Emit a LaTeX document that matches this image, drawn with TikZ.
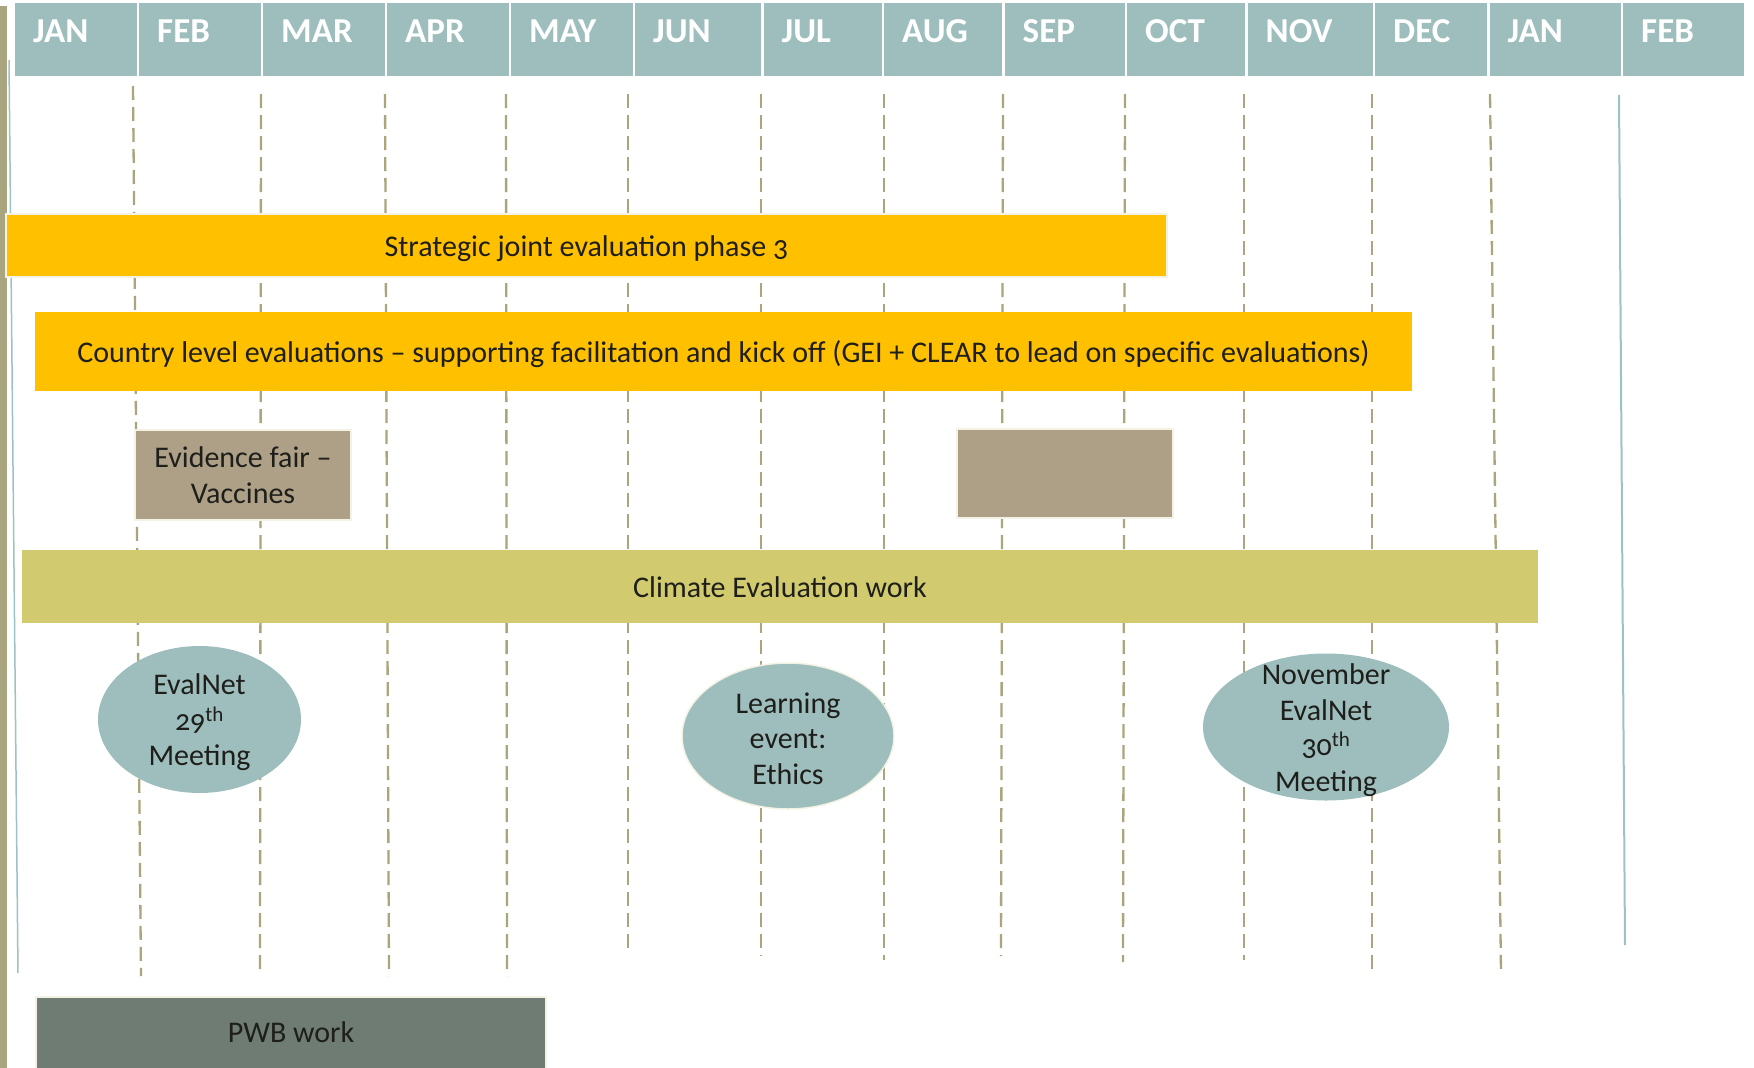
\documentclass[tikz,border=0pt]{standalone}
\usepackage{fontspec}
\setmainfont{Carlito}[Numbers=OldStyle]
\usepackage{tikz}
\usetikzlibrary{positioning,shapes,calc}
\definecolor{headteal}{HTML}{9DBEBD}
\definecolor{linkteal}{HTML}{9CC2C3}
\definecolor{gold}{HTML}{FFC000}
\definecolor{climate}{HTML}{D2CA6E}
\definecolor{tan}{HTML}{ADA086}
\definecolor{pwbgrey}{HTML}{6E7C74}
\definecolor{gridkhaki}{HTML}{ABA57D}
\definecolor{sidekhaki}{HTML}{A9A57E}
\definecolor{cream}{HTML}{F4F2E4}
\definecolor{textdark}{HTML}{1E1E1A}
\tikzset{
  month/.style={
    fill=headteal,
    minimum height=73pt,
    inner sep=0pt,
    outer sep=0pt
  },
  month text/.style={
    anchor=base west,
    xshift=18pt,
    yshift=-2.5pt,
    inner sep=0pt,
    text=white,
    font=\fontsize{35}{40}\selectfont\bfseries
  },
  task/.style={
    inner sep=0pt,
    align=center,
    text=textdark,
    font=\fontsize{30}{35.5}\selectfont
  },
  one line/.style={
    text height=28pt,
    text depth=6pt
  },
  event/.style={
    task,
    shape=ellipse,
    inner sep=-20pt,
    fill=headteal
  },
  grid line/.style={
    draw=gridkhaki,
    line width=2.3pt,
    dash pattern=on 14pt off 7pt
  }
}

\begin{document}
\begin{tikzpicture}[x=1pt,y=-1pt,node distance=2.5pt]
    \useasboundingbox (0,0) rectangle (1754,1068);

    \fill[sidekhaki] (0,6) rectangle (7,1068);
    \draw[linkteal,line width=1.5pt] (9,60) -- (18,973);

    \path{
      node[month,minimum width=121.5pt,anchor=north west,label={[month text]west:JAN}] (m_1) at (15,3) {}
      node[month,minimum width=121.5pt,label={[month text]west:FEB}] (m_2) [right=of m_1] {}
      node[month,minimum width=121.5pt,label={[month text]west:MAR}] (m_3) [right=of m_2] {}
      node[month,minimum width=121.5pt,label={[month text]west:APR}] (m_4) [right=of m_3] {}
      node[month,minimum width=121.5pt,label={[month text]west:MAY}] (m_5) [right=of m_4] {}
      node[month,minimum width=126pt,label={[month text]west:JUN}] (m_6) [right=of m_5] {}
      node[month,minimum width=118pt,label={[month text]west:JUL}] (m_7) [right=of m_6] {}
      node[month,minimum width=118pt,label={[month text]west:AUG}] (m_8) [right=of m_7] {}
      node[month,minimum width=120pt,label={[month text]west:SEP}] (m_9) [right=of m_8] {}
      node[month,minimum width=118pt,label={[month text]west:OCT}] (m_10) [right=of m_9] {}
      node[month,minimum width=125pt,label={[month text]west:NOV}] (m_11) [right=of m_10] {}
      node[month,minimum width=112pt,label={[month text]west:DEC}] (m_12) [right=of m_11] {}
      node[month,minimum width=131pt,label={[month text]west:JAN}] (m_13) [right=of m_12] {}
      node[month,minimum width=121pt,label={[month text]west:FEB}] (m_14) [right=of m_13] {}
    };

    % month boundaries
    \draw[grid line] (133,86) -- (141,976);
    \draw[grid line] (261,94) -- (260,975);
    \draw[grid line] (385,94) -- (389,976);
    \draw[grid line] (506,94) -- (507,976);
    \draw[grid line] (628,94) -- (628,953);
    \draw[grid line] (761,94) -- (761,956);
    \draw[grid line] (884,94) -- (884,960);
    \draw[grid line] (1003,94) -- (1001,956);
    \draw[grid line] (1125,94) -- (1123,962);
    \draw[grid line] (1244,94) -- (1244,960);
    \draw[grid line] (1372,94) -- (1372,973);
    \draw[grid line] (1490,94) -- (1501,973);
    \draw[linkteal,line width=2pt] (1619,95) -- (1625,945);

    \path{
      node[task,one line,fill=gold,draw=cream,line width=1.5pt,minimum width=1161pt,minimum height=63pt] (t_1) at (586.5,245.5) {Strategic joint evaluation phase 3}
      node[task,one line,fill=gold,minimum width=1377pt,minimum height=79pt] (t_2) at (723.5,351.5) {Country level evaluations -- supporting facilitation and kick off (GEI + CLEAR to lead on specific evaluations)}
      node[task,fill=tan,draw=cream,line width=1.5pt,minimum width=216pt,minimum height=90pt] (t_3) at (243,475) {Evidence fair --\\Vaccines}
      node[task,fill=tan,draw=cream,line width=1.5pt,minimum width=216pt,minimum height=89pt] (t_4) at (1065,473.5) {}
      node[task,one line,fill=climate,minimum width=1516pt,minimum height=73pt] (t_5) at (780,586.5) {Climate Evaluation work}
      node[task,fill=pwbgrey,draw=cream,line width=1.5pt,minimum width=510pt,minimum height=78pt,text height=20pt,text depth=8pt] (t_6) at (291,1036) {PWB work}
    };

    \path{
      node[event,minimum width=203pt,minimum height=147pt] (e_1) at (199.5,719.5) {\rule{0pt}{27pt}EvalNet\\29\textsuperscript{th}\\Meeting}
      node[event,draw=cream,line width=1.5pt,minimum width=212pt,minimum height=146pt] (e_2) at (788,736) {\rule{0pt}{26pt}Learning\\event:\\Ethics}
      node[event,minimum width=246pt,minimum height=147pt] (e_3) at (1326,727) {\rule{0pt}{27pt}November\\EvalNet\\30\textsuperscript{th}\\Meeting}
    };
  \end{tikzpicture}
\end{document}
